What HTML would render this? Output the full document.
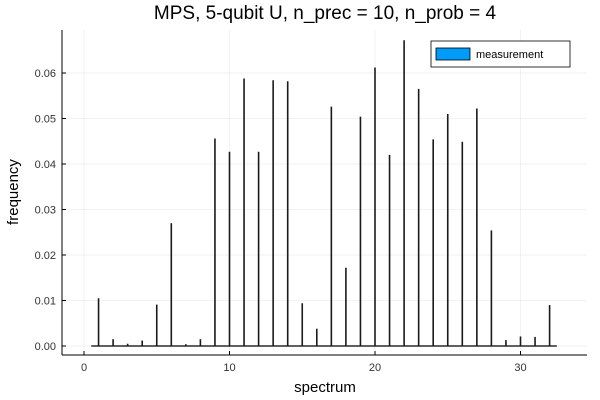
<!DOCTYPE html>
<html><head><meta charset="utf-8"><style>
body{margin:0;background:#fff;}
svg{display:block;font-family:"Liberation Sans",sans-serif;}
</style></head><body>
<svg id="chart" width="600" height="400">
<text x="325" y="19" text-anchor="middle" font-size="19" fill="#000">MPS, 5-qubit U, n_prec = 10, n_prob = 4</text>
<g id="grid"></g>
<g id="ticks"></g>
<g id="bars"></g>
<line x1="62" y1="355" x2="587" y2="355" stroke="#000" stroke-width="1"/>
<line x1="62" y1="30" x2="62" y2="355" stroke="#000" stroke-width="1"/>
<text x="325" y="392" text-anchor="middle" font-size="15">spectrum</text>
<text x="18" y="192" text-anchor="middle" font-size="15" transform="rotate(-90 18 192)">frequency</text>
<g>
<rect x="431" y="41" width="139" height="26" fill="#fff" stroke="#000" stroke-width="0.8"/>
<rect x="436" y="48" width="34" height="12" fill="#009af9" stroke="#000" stroke-width="0.8"/>
<text x="476" y="58" font-size="11">measurement</text>
</g>
</svg>
<script>
const categories=[1,2,3,4,5,6,7,8,9,10,11,12,13,14,15,16,17,18,19,20,21,22,23,24,25,26,27,28,29,30,31,32];
const values=[0.0105,0.0015,0.0005,0.0012,0.0091,0.0270,0.0004,0.0015,0.0456,0.0427,0.0588,0.0427,0.0584,0.0582,0.0094,0.0038,0.0526,0.0172,0.0504,0.0612,0.0420,0.0672,0.0565,0.0454,0.0510,0.0449,0.0522,0.0254,0.0013,0.0021,0.0020,0.0090];
const xTicks=[0,10,20,30];
const yTicks=[0,0.01,0.02,0.03,0.04,0.05,0.06];
const yTickLabels=["0.00","0.01","0.02","0.03","0.04","0.05","0.06"];
const NS="http://www.w3.org/2000/svg";
const xs=v=>84+v*14.55;
const ys=v=>346-v*4550;
const grid=document.getElementById('grid'),ticks=document.getElementById('ticks'),bars=document.getElementById('bars');
function mk(t,a,p){const e=document.createElementNS(NS,t);for(const k in a)e.setAttribute(k,a[k]);p.appendChild(e);return e;}
xTicks.forEach(t=>{
  const g=mk('line',{x1:xs(t),x2:xs(t),y1:30,y2:355,stroke:'#000','stroke-opacity':0.1,'stroke-width':0.5},grid);
  
  
  const l=mk('text',{x:xs(t),y:371,'text-anchor':'middle','font-size':11,fill:'#333'},ticks);
  l.textContent=t;
  
  
  mk('line',{x1:xs(t),x2:xs(t),y1:355,y2:351,stroke:'#000'},ticks);
});
yTicks.forEach((t,i)=>{
  const g=mk('line',{x1:62,x2:587,y1:ys(t),y2:ys(t),stroke:'#000','stroke-opacity':0.1,'stroke-width':0.5},grid);
  
  
  const l=mk('text',{x:56,y:ys(t)+4,'text-anchor':'end','font-size':11,fill:'#333'},ticks);
  l.textContent=yTickLabels[i];
  
  
  mk('line',{x1:62,x2:66,y1:ys(t),y2:ys(t),stroke:'#000'},ticks);
});
const base=mk('line',{x1:xs(categories[0]-0.5),x2:xs(categories[categories.length-1]+0.5),y1:ys(0),y2:ys(0),stroke:'#000','stroke-width':1.2},bars);


categories.forEach((c,i)=>{
  const b=mk('line',{x1:xs(c),x2:xs(c),y1:ys(0),y2:ys(values[i]),stroke:'#1a1a1a','stroke-width':1.6},bars);
  
  
});
</script>
</body></html>
